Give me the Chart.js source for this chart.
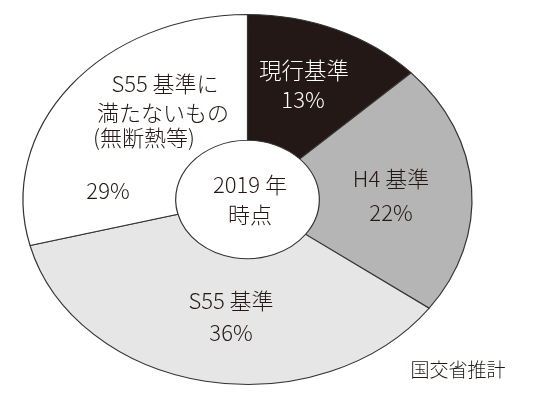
<!DOCTYPE html>
<html>
<head>
<meta charset="utf-8">
<script src="https://cdn.jsdelivr.net/npm/chart.js@4"></script>
<style>
html,body{margin:0;padding:0;background:#fff;}
#wrap{position:relative;width:550px;height:399px;}
</style>
</head>
<body>
<div id="wrap"><canvas id="c" width="550" height="399"></canvas></div>
<script>
const categories = ['現行基準', 'H4 基準', 'S55 基準', 'S55 基準に満たないもの（無断熱等）'];
const shares = [13, 22, 36, 29];
const colors = ['#231815', '#b5b5b5', '#e6e6e6', '#ffffff'];
const centerText = ['2019 年', '時点'];
const sourceText = '国交省推計';

const ELLIPSE_X = 224.5 / 185;
const FONT = '"Noto Sans CJK JP", "Noto Sans", sans-serif';

const ellipsePlugin = {
  id: 'ellipse',
  beforeDatasetsDraw(chart) {
    const ctx = chart.ctx;
    const arc = chart.getDatasetMeta(0).data[0];
    ctx.save();
    ctx.translate(arc.x, 0);
    ctx.scale(ELLIPSE_X, 1);
    ctx.translate(-arc.x, 0);
  },
  afterDatasetsDraw(chart) {
    chart.ctx.restore();
  }
};

function text(ctx, s, x, y, size, color) {
  ctx.font = '300 ' + size + 'px ' + FONT;
  ctx.fillStyle = color;
  ctx.textAlign = 'center';
  ctx.textBaseline = 'middle';
  ctx.fillText(s, x, y);
}

const labelPlugin = {
  id: 'labels',
  afterDraw(chart) {
    const ctx = chart.ctx;
    ctx.save();
    const t = '#231815';
    text(ctx, '現行基準', 304, 70, 22.5, '#ffffff');
    text(ctx, shares[0] + '%', 303, 100, 22, '#ffffff');
    text(ctx, 'H4 基準', 391, 179, 22, t);
    text(ctx, shares[1] + '%', 391, 213, 22, t);
    text(ctx, 'S55 基準', 231, 301, 22, t);
    text(ctx, shares[2] + '%', 231, 333, 22, t);
    text(ctx, 'S55 基準に', 165, 84, 22, t);
    text(ctx, '満たないもの', 163, 113, 22, t);
    text(ctx, '(無断熱等)', 144, 138, 22, t);
    text(ctx, shares[3] + '%', 108, 191, 22, t);
    text(ctx, centerText[0], 250, 185, 22, t);
    text(ctx, centerText[1], 250, 215, 22, t);
    text(ctx, sourceText, 458, 370, 19, t);
    ctx.restore();
  }
};

new Chart(document.getElementById('c'), {
  type: 'doughnut',
  data: {
    labels: categories,
    datasets: [{
      data: shares,
      backgroundColor: colors,
      borderColor: '#333333',
      borderWidth: 1,
      borderAlign: 'center'
    }]
  },
  options: {
    responsive: false,
    animation: false,
    cutout: '32%',
    rotation: 0,
    layout: { padding: { left: 0, right: 55, top: 14, bottom: 14 } },
    plugins: { legend: { display: false }, tooltip: { enabled: false } }
  },
  plugins: [ellipsePlugin, labelPlugin]
});
</script>
</body>
</html>
